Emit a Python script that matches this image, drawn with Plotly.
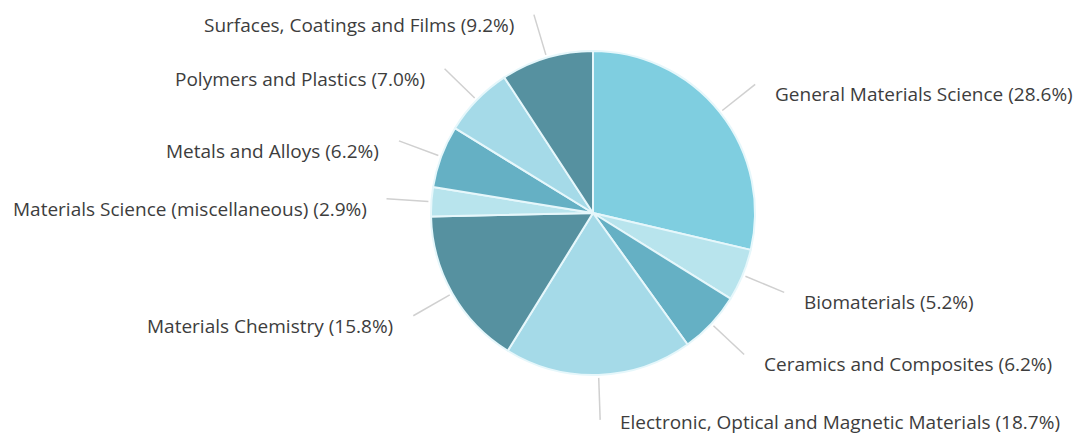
import math
import plotly.graph_objects as go

# Subject areas and their share of documents (%)
categories = [
    "General Materials Science",
    "Biomaterials",
    "Ceramics and Composites",
    "Electronic, Optical and Magnetic Materials",
    "Materials Chemistry",
    "Materials Science (miscellaneous)",
    "Metals and Alloys",
    "Polymers and Plastics",
    "Surfaces, Coatings and Films",
]
shares = [28.6, 5.2, 6.2, 18.7, 15.8, 2.9, 6.2, 7.0, 9.2]

colors = ["#7fcee0", "#b8e4ed", "#65b0c4", "#a5dae8", "#5691a0",
          "#b8e4ed", "#65b0c4", "#a5dae8", "#5691a0"]

W, H = 1078, 439
CX, CY, R = 593, 213, 162          # pie centre and radius in pixels
CONN_IN, CONN_OUT = 3, 45          # connector start/end distance beyond the rim
GAP = 18                           # space between connector end and label
LABEL_DY = 10                      # labels sit slightly below the connector end

# per-label nudges (dx, dy) in pixels
nudge = {
    "Electronic, Optical and Magnetic Materials": (0, -8),
}

fig = go.Figure()
fig.add_trace(go.Pie(
    labels=categories,
    values=shares,
    sort=False,
    direction="clockwise",
    rotation=0,
    marker=dict(colors=colors, line=dict(color="#e6f7fb", width=2)),
    textinfo="none",
    hoverinfo="label+percent",
    showlegend=False,
    domain=dict(x=[(CX - R) / W, (CX + R) / W],
                y=[1 - (CY + R) / H, 1 - (CY - R) / H]),
))

total = sum(shares)
cum = 0.0
shapes, annotations = [], []
for name, v in zip(categories, shares):
    mid = (cum + v / 2) / total * 2 * math.pi
    cum += v
    s, c = math.sin(mid), math.cos(mid)
    x0, y0 = CX + (R + CONN_IN) * s, CY - (R + CONN_IN) * c
    x1, y1 = CX + (R + CONN_OUT) * s, CY - (R + CONN_OUT) * c
    shapes.append(dict(type="line", xref="x", yref="y", x0=x0, y0=y0, x1=x1, y1=y1,
                       line=dict(color="#d0d0d0", width=1.5), layer="below"))
    right = s >= 0
    dx, dy = nudge.get(name, (0, 0))
    annotations.append(dict(
        xref="x", yref="y",
        x=x1 + (GAP if right else -GAP) + dx, y=y1 + LABEL_DY + dy,
        text=f"{name} ({v:.1f}%)", showarrow=False,
        xanchor="left" if right else "right", yanchor="middle",
        font=dict(family="Open Sans", size=19, color="#3d3d3d"),
    ))

fig.update_layout(
    width=W, height=H,
    margin=dict(l=0, r=0, t=0, b=0),
    paper_bgcolor="white", plot_bgcolor="rgba(0,0,0,0)",
    xaxis=dict(range=[0, W], visible=False, fixedrange=True),
    yaxis=dict(range=[H, 0], visible=False, fixedrange=True),
    shapes=shapes, annotations=annotations,
)

fig.write_html("out.html")
